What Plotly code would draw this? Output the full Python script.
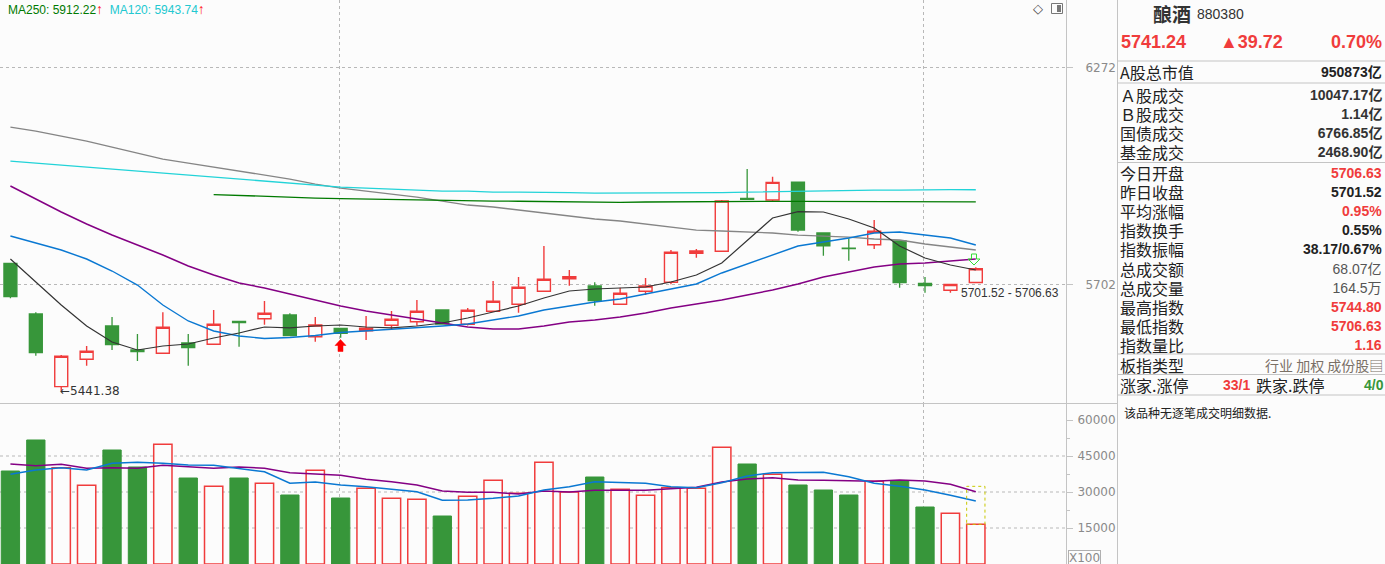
import numpy as np
import plotly.graph_objects as go

W, H = 1385, 564
BG = "#fcfcfc"
RED = "#f03c3c"
GREEN = "#37963a"
DARK = "#222222"
GRAYTXT = "#555555"
LINEC = "#c4c4c4"

# ---------------- data ----------------
opens = [5754.8, 5628.1, 5451.4, 5517.3, 5598.6, 5539.9, 5531.9, 5556.9, 5553.8, 5610.1,
         5616.5, 5625.7, 5572.3, 5592.9, 5587.0, 5600.3, 5609.1, 5638.0, 5602.7, 5634.8,
         5652.2, 5684.5, 5716.0, 5697.7, 5652.2, 5684.5, 5707.0, 5780.1, 5785.2, 5921.4,
         5917.0, 5963.9, 5831.9, 5793.5, 5802.0, 5811.4, 5704.5, 5687.0, 5706.63]
highs = [5755.0, 5632.3, 5527.7, 5549.6, 5620.7, 5578.9, 5632.3, 5578.9, 5638.0, 5611.0,
         5660.4, 5629.9, 5620.7, 5594.0, 5623.2, 5635.6, 5662.8, 5639.0, 5643.0, 5710.3,
         5720.3, 5798.7, 5737.9, 5707.0, 5693.5, 5717.8, 5788.5, 5791.1, 5917.0, 5998.0,
         5977.8, 5964.5, 5832.5, 5818.3, 5865.3, 5812.0, 5720.3, 5702.0, 5744.80]
lows = [5667.1, 5526.0, 5441.38, 5501.8, 5539.9, 5513.2, 5531.0, 5501.8, 5553.0, 5547.9,
        5601.8, 5574.0, 5560.1, 5569.9, 5564.3, 5590.5, 5599.3, 5602.0, 5600.0, 5634.0,
        5631.3, 5684.0, 5698.5, 5648.7, 5652.0, 5675.3, 5702.0, 5769.0, 5785.0, 5918.0,
        5912.6, 5835.2, 5774.0, 5761.4, 5791.1, 5693.5, 5681.0, 5681.0, 5706.63]
closes = [5671.0, 5533.3, 5524.6, 5536.7, 5552.8, 5535.8, 5595.4, 5545.5, 5602.7, 5606.7,
          5629.9, 5574.8, 5601.0, 5580.7, 5592.9, 5615.1, 5634.8, 5603.5, 5637.3, 5659.6,
          5694.5, 5714.5, 5721.0, 5661.1, 5679.5, 5697.7, 5782.7, 5786.0, 5914.4, 5918.8,
          5963.1, 5839.6, 5799.4, 5792.0, 5836.2, 5706.0, 5698.5, 5701.52, 5741.24]

ma5 = [5765.7, 5707.8, 5650.4, 5598.6, 5559.4, 5539.9, 5549.6, 5554.5, 5569.2, 5581.4,
       5596.1, 5593.7, 5598.6, 5601.0, 5596.1, 5593.7, 5598.6, 5605.9, 5618.3, 5633.1,
       5647.9, 5667.8, 5685.3, 5690.2, 5692.7, 5695.2, 5707.8, 5725.3, 5755.6, 5814.0,
       5870.4, 5887.1, 5885.9, 5867.8, 5844.7, 5798.7, 5768.2, 5750.5, 5737.9]
ma10 = [5824.2, 5806.3, 5788.5, 5765.7, 5735.4, 5700.2, 5650.4, 5610.9, 5586.3, 5574.1,
        5567.9, 5570.4, 5575.3, 5582.6, 5586.3, 5590.0, 5593.7, 5598.6, 5603.5, 5613.3,
        5623.2, 5638.0, 5647.9, 5657.9, 5665.3, 5677.8, 5690.2, 5702.8, 5730.4, 5753.0,
        5775.8, 5798.7, 5808.9, 5819.1, 5831.9, 5834.4, 5826.7, 5819.1, 5801.2]
ma20 = [5953.4, 5919.5, 5885.9, 5854.9, 5826.7, 5801.2, 5775.8, 5748.0, 5725.3, 5705.3,
        5692.7, 5677.8, 5662.8, 5647.9, 5635.6, 5625.7, 5615.8, 5605.9, 5596.1, 5591.2,
        5591.2, 5598.6, 5608.4, 5613.3, 5620.7, 5630.6, 5643.0, 5652.9, 5662.8, 5675.3,
        5687.7, 5702.8, 5720.3, 5732.9, 5745.5, 5753.0, 5755.6, 5760.6, 5765.7]
ma60 = [6109.3, 6098.6, 6085.3, 6072.0, 6056.0, 6040.1, 6024.3, 6013.7, 6003.2, 5992.7,
        5982.2, 5971.7, 5958.6, 5948.2, 5940.3, 5932.5, 5924.7, 5914.3, 5904.0, 5898.8,
        5891.0, 5883.3, 5875.5, 5867.8, 5862.7, 5854.9, 5847.2, 5839.5, 5837.0, 5834.4,
        5831.9, 5826.7, 5824.2, 5821.6, 5816.5, 5814.0, 5803.8, 5796.1, 5788.5]
ma120 = [6019.0, 6013.7, 6008.4, 6003.2, 5997.9, 5992.7, 5987.4, 5982.2, 5976.9, 5971.7,
         5966.4, 5961.2, 5956.0, 5950.8, 5948.2, 5945.5, 5942.9, 5940.3, 5940.3, 5937.7,
         5937.7, 5937.7, 5936.4, 5935.1, 5935.1, 5935.1, 5935.1, 5935.1, 5936.4, 5937.7,
         5939.0, 5940.3, 5940.3, 5941.6, 5942.9, 5942.9, 5944.2, 5944.2, 5943.74]
ma250 = [None] * 8 + [5931.2, 5928.6, 5926.0, 5923.4, 5922.1, 5920.8, 5919.5, 5918.2,
                      5916.9, 5916.1, 5915.4, 5914.3, 5913.8, 5913.0, 5912.3, 5911.2,
                      5911.0, 5911.8, 5912.5, 5913.3, 5913.5, 5913.5, 5913.5, 5913.5,
                      5913.5, 5913.5, 5913.5, 5913.4, 5913.2, 5912.8, 5912.22]

volumes = [38750, 51670, 40130, 32780, 47500, 40420, 49860, 35830, 32360, 35830,
           33610, 28750, 39030, 27500, 31530, 27360, 26950, 20000, 28190, 34860,
           29440, 42360, 30000, 36250, 31110, 28610, 31810, 31530, 48610, 41670,
           37360, 32920, 30830, 28750, 34440, 34580, 23750, 21110, 16530]
proj_volume = 32360
vol_ma5 = [37375, 39167, 40125, 39167, 41958, 42375, 41958, 41250, 41125, 39875,
           38458, 33625, 34167, 32917, 32208, 31125, 30125, 26542, 26667, 27375,
           28333, 30833, 32208, 34292, 33875, 33625, 32208, 31792, 33875, 36667,
           38042, 38208, 38208, 36375, 33625, 32375, 30833, 28625, 26250]
vol_ma10 = [41667, 40958, 41542, 39875, 40125, 39875, 41125, 40542, 39875, 40417,
            39875, 38042, 37500, 36958, 35292, 34292, 32917, 30417, 29875, 29875,
            29167, 30417, 30000, 30708, 30708, 30708, 31375, 31958, 34167, 35417,
            35958, 35000, 34875, 34583, 34458, 35000, 34583, 33208, 30125]

price_ticks = [5702, 6272]
vol_ticks = [15000, 30000, 45000, 60000]
vol_minor_ticks = [22500, 37500, 52500]
vol_grid = [15000, 30000, 45000]
month_lines = [12.97, 35.93]

market_cap_label, market_cap_value = "A股总市值", "950873亿"
market_labels = ["Ａ股成交", "Ｂ股成交", "国债成交", "基金成交"]
market_values = ["10047.17亿", "1.14亿", "6766.85亿", "2468.90亿"]
stat_labels = ["今日开盘", "昨日收盘", "平均涨幅", "指数换手", "指数振幅",
               "总成交额", "总成交量", "最高指数", "最低指数", "指数量比"]
stat_values = [f"{opens[-1]:.2f}", f"{closes[-2]:.2f}", "0.95%", "0.55%", "38.17/0.67%",
               "68.07亿", "164.5万", f"{highs[-1]:.2f}", f"{lows[-1]:.2f}", "1.16"]
stat_colors = [RED, DARK, RED, DARK, DARK, GRAYTXT, GRAYTXT, RED, RED, RED]
up_count, down_count = "33/1", "4/0"

# ---------------- geometry ----------------
XR = 1066 / W
PY0 = (H - 403) / H
VY1 = (H - 404) / H
XRANGE = [-0.41, 41.55]
YLOG = [3.733391, 3.810243]
VRANGE = [0, 66667]

CJK = "Noto Sans CJK SC"
NUM = "Liberation Sans, Noto Sans CJK SC"

x = list(range(len(closes)))
up = [c >= o for o, c in zip(opens, closes)]

fig = go.Figure()

fig.add_trace(go.Candlestick(
    x=x, open=opens, high=highs, low=lows, close=closes,
    increasing=dict(line=dict(color=RED, width=1.4), fillcolor=BG),
    decreasing=dict(line=dict(color=GREEN, width=1.3), fillcolor=GREEN),
    whiskerwidth=0, xaxis="x", yaxis="y", hoverinfo="skip", showlegend=False))

for vals, col, wd in [(ma60, "#858585", 1.3), (ma120, "#22d3d8", 1.3), (ma250, "#007a00", 1.3),
                      (ma20, "#840084", 1.5), (ma10, "#0a78d2", 1.4), (ma5, "#333333", 1.2)]:
    fig.add_trace(go.Scatter(x=x, y=vals, mode="lines", line=dict(color=col, width=wd),
                             xaxis="x", yaxis="y", hoverinfo="skip", showlegend=False))

# volume
fig.add_trace(go.Bar(x=[i for i in x if up[i]], y=[volumes[i] for i in x if up[i]], width=0.72,
                     marker=dict(color=BG, line=dict(color=RED, width=1.5)),
                     xaxis="x2", yaxis="y2", hoverinfo="skip", showlegend=False))
fig.add_trace(go.Bar(x=[i for i in x if not up[i]], y=[volumes[i] for i in x if not up[i]], width=0.72,
                     marker=dict(color=GREEN, line=dict(color=GREEN, width=1)),
                     xaxis="x2", yaxis="y2", hoverinfo="skip", showlegend=False))
for vals, col in [(vol_ma10, "#840084"), (vol_ma5, "#0a78d2")]:
    fig.add_trace(go.Scatter(x=x, y=vals, mode="lines", line=dict(color=col, width=1.5),
                             xaxis="x2", yaxis="y2", hoverinfo="skip", showlegend=False))

axis_common = dict(range=XRANGE, showticklabels=False, ticks="", tickvals=month_lines,
                   showgrid=True, griddash="dot", gridcolor="#b8b8b8", gridwidth=1,
                   zeroline=False, showline=False, fixedrange=True)
tickfont = dict(family="DejaVu Sans", size=12, color="#8a8a8a")
fig.update_layout(
    width=W, height=H, margin=dict(l=0, r=0, t=0, b=0),
    paper_bgcolor=BG, plot_bgcolor=BG, showlegend=False, boxgap=0.27, bargap=0.2,
    xaxis=dict(domain=[0, XR], anchor="y", rangeslider=dict(visible=False), **axis_common),
    xaxis2=dict(domain=[0, XR], anchor="y2", **axis_common),
    yaxis=dict(domain=[PY0, 1], type="log", range=YLOG, side="right", anchor="x",
               tickvals=price_ticks, ticktext=[str(v) for v in price_ticks],
               showgrid=True, griddash="dot", gridcolor="#b8b8b8", zeroline=False,
               showline=True, linecolor=LINEC, ticks="outside", ticklen=6, tickcolor=LINEC,
               tickfont=tickfont, ticklabelstandoff=10, fixedrange=True),
    yaxis2=dict(domain=[0, VY1], range=VRANGE, side="right", anchor="x2",
                tickvals=vol_ticks, ticktext=[str(v) for v in vol_ticks],
                showgrid=False, zeroline=False, showline=True, linecolor=LINEC,
                ticks="outside", ticklen=6, tickcolor=LINEC, tickfont=tickfont,
                ticklabelstandoff=2, fixedrange=True,
                minor=dict(tickvals=vol_minor_ticks, ticks="outside", ticklen=3,
                           tickcolor=LINEC, showgrid=False)),
)

shapes = []
for v in vol_grid:
    shapes.append(dict(type="line", xref="x2 domain", yref="y2", x0=0, x1=1, y0=v, y1=v,
                       line=dict(color="#b8b8b8", width=1, dash="dot"), layer="below"))
# projected volume box on the last bar
shapes.append(dict(type="rect", xref="x2", yref="y2", x0=x[-1] - 0.36, x1=x[-1] + 0.36,
                   y0=volumes[-1], y1=proj_volume, line=dict(color="#c8c800", width=1, dash="dot"),
                   fillcolor="rgba(0,0,0,0)", layer="above"))


def P(px, py):
    return f"{px / W:.5f},{1 - py / H:.5f}"


def path(pts):
    return "M " + " L ".join(P(a, b) for a, b in pts) + " Z"


def hline(py, x0, x1):
    shapes.append(dict(type="line", xref="paper", yref="paper", x0=x0 / W, x1=x1 / W,
                       y0=1 - py / H, y1=1 - py / H, line=dict(color=LINEC, width=1)))


def vline(px, y0, y1):
    shapes.append(dict(type="line", xref="paper", yref="paper", x0=px / W, x1=px / W,
                       y0=1 - y0 / H, y1=1 - y1 / H, line=dict(color=LINEC, width=1)))


hline(403.5, 0, 1117)
vline(1117.5, 0, H)
for py in [61, 83, 162.5, 354, 374.5, 395]:
    hline(py, 1117.5, W)

# red up arrow (signal) and green hollow down arrow
shapes.append(dict(type="path", xref="paper", yref="paper",
                   path=path([(340.5, 339.5), (346, 345.5), (343, 345.5), (343, 351.5),
                              (338, 351.5), (338, 345.5), (335, 345.5)]),
                   fillcolor="#ff0000", line=dict(color="#ff0000", width=0.5)))
shapes.append(dict(type="path", xref="paper", yref="paper",
                   path=path([(971.5, 254), (976.5, 254), (976.5, 259), (980, 259), (974, 265),
                              (968, 259), (971.5, 259)]),
                   fillcolor="rgba(0,0,0,0)", line=dict(color="#33dd33", width=1)))
# small icon top right
shapes.append(dict(type="rect", xref="paper", yref="paper", x0=1051.5 / W, x1=1062.5 / W,
                   y0=1 - 13.5 / H, y1=1 - 3.5 / H, line=dict(color="#777", width=1)))
shapes.append(dict(type="rect", xref="paper", yref="paper", x0=1057 / W, x1=1061 / W,
                   y0=1 - 12 / H, y1=1 - 5 / H, line=dict(width=0), fillcolor="#777"))
fig.update_layout(shapes=shapes)


def ptxt(px, py, text, size=16, color=DARK, anchor="left", family=CJK, bold=False, align="left"):
    if bold:
        text = f"<b>{text}</b>"
    fig.add_annotation(x=px / W, y=1 - py / H, xref="paper", yref="paper", text=text,
                       showarrow=False, xanchor=anchor, yanchor="middle", align=align,
                       font=dict(size=size, color=color, family=family), borderpad=0)


def block(px, first_y, pitch, lines, anchor, family, align):
    # a multi-line text block whose line pitch equals the table row pitch
    n = len(lines)
    center = first_y + pitch * (n - 1) / 2
    ptxt(px, center, "<br>".join(lines), size=pitch / 1.3, anchor=anchor, family=family, align=align)


def lab(t):
    return f"<span style='font-size:16px;color:{DARK}'>{t}</span>"


def val(t, col=DARK, bold=True):
    s = f"<span style='font-size:14px;color:{col}'>{t}</span>"
    return f"<b>{s}</b>" if bold else s


# legend line
legend = (f"<span style='color:#007a00'>MA250: {ma250[-1]:.2f}</span>"
          f"<span style='color:#ff2020;font-size:14px'>↑</span>  "
          f"<span style='color:#22c8d0'>MA120: {ma120[-1]:.2f}</span>"
          f"<span style='color:#ff2020;font-size:14px'>↑</span>")
ptxt(7, 9, legend, size=12, family="Liberation Sans")
ptxt(1038, 9, "◇", size=13, color="#444", anchor="center", family="DejaVu Sans")

# low label and gap label
lo_i = int(np.argmin(lows))
fig.add_annotation(x=lo_i, y=np.log10(lows[lo_i]), xref="x", yref="y", text=f"←{lows[lo_i]:.2f}",
                   showarrow=False, xanchor="left", yanchor="middle", xshift=-2,
                   font=dict(size=12, color="#333", family="DejaVu Sans, Liberation Sans"), borderpad=0)
fig.add_annotation(x=x[-2], y=np.log10(closes[-2]), xref="x", yref="y",
                   text=f"{closes[-2]:.2f} - {opens[-1]:.2f}",
                   showarrow=False, xanchor="left", yanchor="middle", xshift=10, yshift=-9,
                   font=dict(size=12, color="#333", family="Liberation Sans"), borderpad=0)

# X100 box
fig.add_annotation(x=1084 / W, y=1 - 557.5 / H, xref="paper", yref="paper", text="X100",
                   showarrow=False, xanchor="center", yanchor="middle",
                   font=dict(size=12, color="#8a8a8a", family="DejaVu Sans"),
                   bordercolor="#b0b0b0", borderwidth=1, borderpad=0)

# ---------------- right panel ----------------
ptxt(1152, 13, "酿酒", size=19, color="#333", bold=True)
ptxt(1196, 14, "880380", size=14, color="#333", family=NUM)
chg = closes[-1] - closes[-2]
ptxt(1120, 42, f"{closes[-1]:.2f}", size=18, color=RED, family=NUM, bold=True)
ptxt(1219, 42, f"▲{chg:.2f}", size=18, color=RED, family="Liberation Sans, DejaVu Sans", bold=True)
ptxt(1383, 42, f"{chg / closes[-2] * 100:.2f}%", size=18, color=RED, anchor="right", family=NUM, bold=True)

ptxt(1119, 72, market_cap_label, size=16)
ptxt(1383, 72, market_cap_value, size=14, family=NUM, bold=True, anchor="right")

block(1119, 94.5, 19.0, [lab(t) for t in market_labels], "left", CJK, "left")
block(1383, 94.5, 19.0, [val(t, "#333") for t in market_values], "right", NUM, "right")
block(1119, 173.5, 19.1, [lab(t) for t in stat_labels], "left", CJK, "left")
block(1383, 173.5, 19.1, [val(t, c, c != GRAYTXT) for t, c in zip(stat_values, stat_colors)],
      "right", NUM, "right")

ptxt(1119, 364.5, "板指类型", size=16)
ptxt(1384, 364.5, "行业 加权 成份股▤", size=14, color="#7a7066", anchor="right")
ptxt(1119, 384.5, "涨家.涨停", size=16)
ptxt(1222, 384.5, up_count, size=14, color=RED, family=NUM, bold=True)
ptxt(1255, 384.5, "跌家.跌停", size=16)
ptxt(1385, 384.5, down_count, size=14, color=GREEN, family=NUM, bold=True, anchor="right")
ptxt(1123, 412, "该品种无逐笔成交明细数据.", size=12)

fig.write_html("out.html", config={"displayModeBar": False},
               post_script="document.body.style.margin='0';document.body.style.overflow='hidden';")
